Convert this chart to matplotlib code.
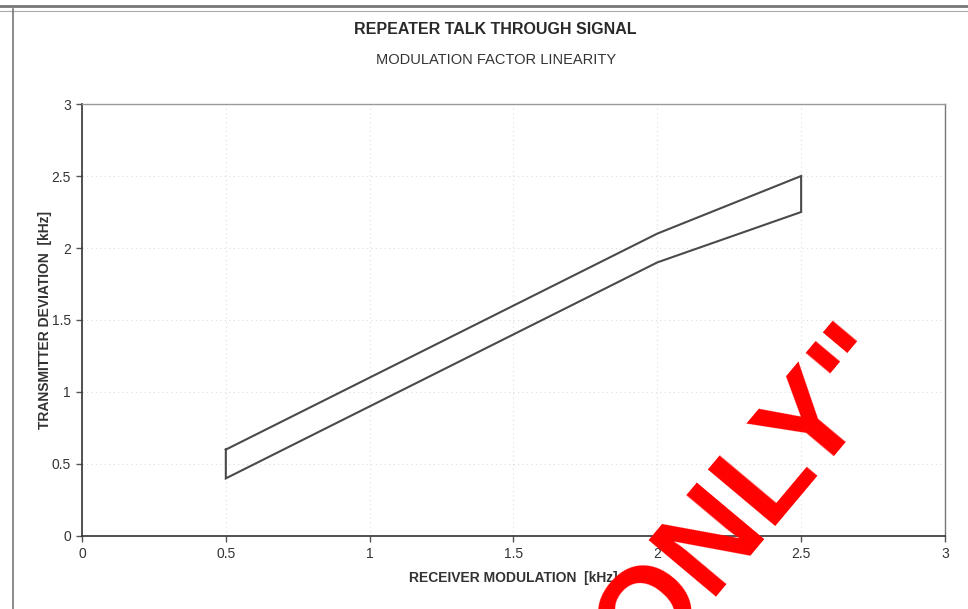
import matplotlib
matplotlib.use("Agg")
import matplotlib.pyplot as plt
from matplotlib.lines import Line2D

# data (kHz)
rx_mod = [0.5, 1.0, 1.5, 2.0, 2.5]
tx_upper = [0.6, 1.1, 1.6, 2.1, 2.5]
tx_lower = [0.4, 0.9, 1.4, 1.9, 2.25]
ticks = [0, 0.5, 1, 1.5, 2, 2.5, 3]
tick_labels = ["0", "0.5", "1", "1.5", "2", "2.5", "3"]

plt.rcParams["font.family"] = ["Liberation Sans", "DejaVu Sans"]

fig = plt.figure(figsize=(9.68, 6.09), dpi=100)
ax = fig.add_axes([0.0847, 0.1199, 0.8915, 0.7093])

# closed envelope: upper limit, right edge, lower limit back, left edge
xs = rx_mod + rx_mod[::-1] + [rx_mod[0]]
ys = tx_upper + tx_lower[::-1] + [tx_upper[0]]
ax.plot(xs, ys, color="#4a4a4a", lw=1.5, solid_joinstyle="miter")

ax.set_xlim(0, 3)
ax.set_ylim(0, 3)
ax.set_xticks(ticks)
ax.set_xticklabels(tick_labels)
ax.set_yticks(ticks)
ax.set_yticklabels(tick_labels)
ax.tick_params(direction="out", length=4, width=1, color="#555555",
               labelsize=10, labelcolor="#333333", pad=4)

ax.grid(True, color="#dddddd", lw=0.8, linestyle=(0, (1, 3)))
for side in ["left", "bottom"]:
    ax.spines[side].set_color("#333333")
    ax.spines[side].set_linewidth(1.2)
ax.spines["right"].set_color("#777777")
ax.spines["right"].set_linewidth(1.0)
ax.spines["top"].set_color("#999999")
ax.spines["top"].set_linestyle((0, (2, 1)))
ax.spines["top"].set_linewidth(1.0)

ax.set_xlabel("RECEIVER MODULATION  [kHz]", fontsize=10, fontweight="bold",
              color="#333333", labelpad=7)
ax.set_ylabel("TRANSMITTER DEVIATION  [kHz]", fontsize=10, fontweight="bold",
              color="#333333", labelpad=0)

fig.text(0.512, 0.951, "REPEATER TALK THROUGH SIGNAL", ha="center", va="center",
         fontsize=11.5, fontweight="bold", color="#2a2a2a")
fig.text(0.512, 0.901, "MODULATION FACTOR LINEARITY", ha="center", va="center",
         fontsize=10.5, color="#333333")

# page frame of the scanned sheet
fig.add_artist(Line2D([0.0, 1.0], [0.990, 0.990], transform=fig.transFigure,
                      color="#777777", lw=2.0))
fig.add_artist(Line2D([0.0, 1.0], [0.982, 0.982], transform=fig.transFigure,
                      color="#aaaaaa", lw=0.8))
fig.add_artist(Line2D([0.013, 0.013], [0.0, 0.985], transform=fig.transFigure,
                      color="#777777", lw=1.2))

# red stamp overlaid on the scan (cut by the page edge, as in the scan)
fig.text(0.775, 0.182, "ONLY\"", ha="center", va="center", rotation=50,
         fontsize=92, fontweight="bold", color="#ff0000", rotation_mode="anchor",
         family=["Liberation Sans Narrow", "Liberation Sans", "DejaVu Sans"])

fig.savefig("out.png", dpi=100)
